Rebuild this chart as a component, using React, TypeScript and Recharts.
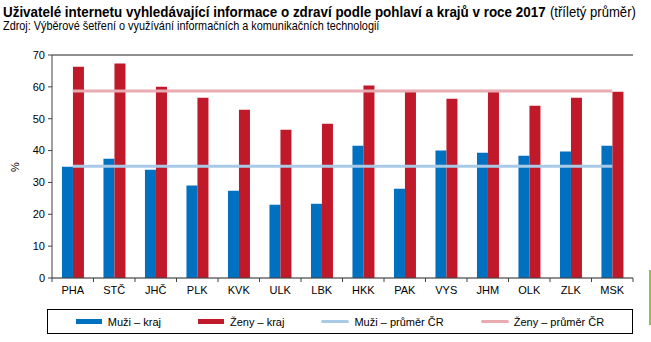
import React, { useLayoutEffect, useRef, useState } from "react";
import { ComposedChart, Bar, Line, XAxis, YAxis, CartesianGrid, ReferenceLine } from "recharts";

const regions = ["PHA", "STČ", "JHČ", "PLK", "KVK", "ULK", "LBK", "HKK", "PAK", "VYS", "JHM", "OLK", "ZLK", "MSK"];
const menRegion = [34.9, 37.4, 34.0, 29.0, 27.4, 23.0, 23.3, 41.5, 28.0, 40.0, 39.3, 38.4, 39.7, 41.5];
const womenRegion = [66.3, 67.3, 60.0, 56.6, 52.8, 46.5, 48.4, 60.4, 58.4, 56.3, 58.4, 54.1, 56.6, 58.5];
const menAvg = 35.1;
const womenAvg = 58.7;
const yTicks = [0, 10, 20, 30, 40, 50, 60, 70];

const seriesNames = ["Muži – kraj", "Ženy – kraj", "Muži – průměr ČR", "Ženy – průměr ČR"];

const BLUE = "#0070C0";
const RED = "#C0192A";
const LIGHT_BLUE = "#A8CAE7";
const PINK = "#E8ABB1";
const AXIS = "#404040";
const FONT = "'Liberation Sans', Arial, sans-serif";

const data = regions.map((r, i) => ({
  region: r,
  men: menRegion[i],
  women: womenRegion[i],
  menAvg,
  womenAvg,
}));

// the reference uses a narrow face, so squeeze the text horizontally to the measured width
function FitText({ x, y, width, fontSize, bold, children }: any) {
  const ref = useRef<SVGTextElement>(null);
  const [sx, setSx] = useState(1);
  useLayoutEffect(() => {
    if (ref.current) {
      const w = ref.current.getComputedTextLength();
      if (w > 0) setSx(width / w);
    }
  }, [width]);
  return (
    <g transform={`translate(${x},${y}) scale(${sx},1)`}>
      <text ref={ref} x={0} y={0} fontSize={fontSize} fontWeight={bold ? "bold" : "normal"} fontFamily={FONT}>
        {children}
      </text>
    </g>
  );
}

// category labels centred, tick marks on the band boundaries
function RegionTick(props: any) {
  const { x, y, payload, index } = props;
  const half = payload && payload.offset ? payload.offset : 20.75;
  const axisY = y - 7;
  return (
    <g>
      <line x1={x - half} x2={x - half} y1={axisY} y2={axisY + 4} stroke={AXIS} />
      {index === regions.length - 1 && (
        <line x1={x + half} x2={x + half} y1={axisY} y2={axisY + 4} stroke={AXIS} />
      )}
      <text x={x} y={y} dy="0.8em" textAnchor="middle" fontSize={11} fill="#000" fontFamily={FONT}>
        {payload.value}
      </text>
    </g>
  );
}

const legendItems = [
  { name: seriesNames[0], color: BLUE, kind: "bar" },
  { name: seriesNames[1], color: RED, kind: "bar" },
  { name: seriesNames[2], color: LIGHT_BLUE, kind: "line" },
  { name: seriesNames[3], color: PINK, kind: "line" },
];

export default function App() {
  return (
    <div style={{ position: "absolute", left: 0, top: 0, width: 651, height: 342, background: "#fff", fontFamily: FONT }}>
      <svg width={651} height={40} style={{ position: "absolute", left: 0, top: 0 }}>
        <FitText x={3} y={17} width={543} fontSize={14} bold>
          Uživatelé internetu vyhledávající informace o zdraví podle pohlaví a krajů v roce 2017
        </FitText>
        <FitText x={550} y={17} width={86} fontSize={14}>
          (tříletý průměr)
        </FitText>
        <FitText x={3} y={30} width={377} fontSize={12}>
          Zdroj: Výběrové šetření o využívání informačních a komunikačních technologií
        </FitText>
      </svg>

      <div style={{ position: "absolute", left: 0, top: 0 }}>
        <ComposedChart width={651} height={342} data={data} margin={{ top: 55, right: 18, left: 0, bottom: 34 }} barCategoryGap="24%" barGap={0}>
          <CartesianGrid vertical={false} stroke="#BFBFBF" />
          <XAxis dataKey="region" height={30} axisLine={{ stroke: AXIS }} tickLine={false} tickSize={4} tickMargin={3} interval={0} tick={<RegionTick />} />
          <YAxis
            yAxisId="left"
            width={52}
            domain={[0, 70]}
            ticks={yTicks}
            interval={0}
            axisLine={{ stroke: AXIS }}
            tickLine={{ stroke: AXIS }}
            tickSize={4}
            tickMargin={3}
            tick={{ fontSize: 11, fill: "#000", fontFamily: FONT }}
          />
          <YAxis yAxisId="right" orientation="right" width={0} domain={[0, 70]} tick={false} tickLine={false} axisLine={{ stroke: AXIS }} />
          <ReferenceLine yAxisId="left" y={70} stroke={AXIS} />
          <Bar yAxisId="left" dataKey="men" name={seriesNames[0]} fill={BLUE} isAnimationActive={false} />
          <Bar yAxisId="left" dataKey="women" name={seriesNames[1]} fill={RED} isAnimationActive={false} />
          <Line yAxisId="left" type="linear" dataKey="menAvg" name={seriesNames[2]} stroke={LIGHT_BLUE} strokeWidth={3} dot={false} activeDot={false} isAnimationActive={false} />
          <Line yAxisId="left" type="linear" dataKey="womenAvg" name={seriesNames[3]} stroke={PINK} strokeWidth={3} dot={false} activeDot={false} isAnimationActive={false} />
        </ComposedChart>
      </div>

      <svg width={30} height={342} style={{ position: "absolute", left: 0, top: 0 }}>
        <text x={0} y={0} transform="translate(19,167) rotate(-90)" textAnchor="middle" fontSize={11} fontFamily={FONT}>
          %
        </text>
      </svg>

      <div
        style={{
          position: "absolute",
          left: 47,
          top: 309,
          width: 584,
          height: 23,
          border: "1px solid #000",
          display: "flex",
          alignItems: "center",
          justifyContent: "center",
          gap: 37,
          fontSize: 11,
        }}
      >
        {legendItems.map((it) => (
          <div key={it.name} style={{ display: "flex", alignItems: "center" }}>
            {it.kind === "bar" ? (
              <div style={{ width: 26, height: 5, background: it.color, marginRight: 6 }} />
            ) : (
              <div style={{ width: 28, height: 3, background: it.color, borderRadius: 2, marginRight: 5 }} />
            )}
            <span>{it.name}</span>
          </div>
        ))}
      </div>

      <div style={{ position: "absolute", left: 649, top: 270, width: 2, height: 55, background: "#8CC152" }} />
    </div>
  );
}
